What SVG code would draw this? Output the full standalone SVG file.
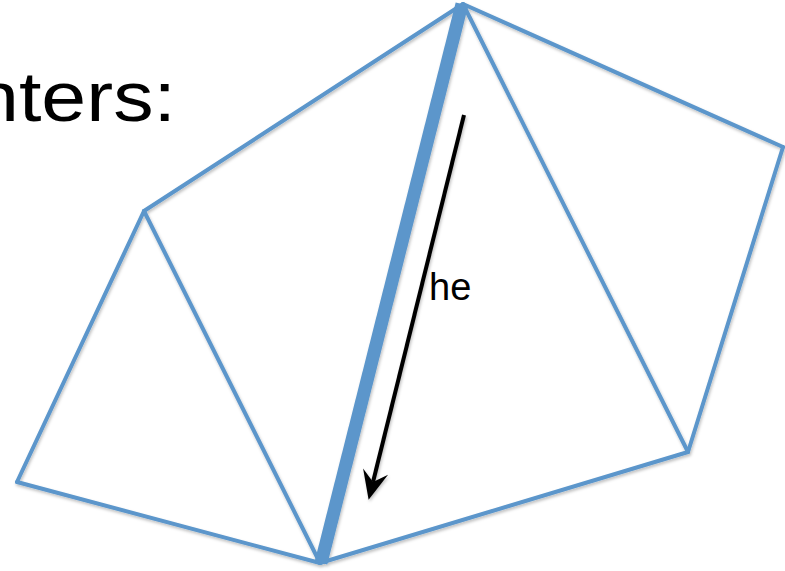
<svg xmlns="http://www.w3.org/2000/svg" width="785" height="571" viewBox="0 0 785 571">
<defs>
<style>
.edge{stroke:#5B96CB;stroke-width:4;fill:none;stroke-linecap:round;stroke-linejoin:round}
.thick{stroke:#5B96CB;stroke-width:13;fill:none;stroke-linecap:butt}
.lbl{font-family:"Liberation Sans",Arial,sans-serif;fill:#000}
</style>
<filter id="sh" x="-10%" y="-10%" width="120%" height="120%">
<feDropShadow dx="1" dy="2" stdDeviation="1.5" flood-color="#000" flood-opacity="0.25"/>
</filter>
<marker id="ah" markerUnits="userSpaceOnUse" markerWidth="40" markerHeight="30" viewBox="-12 -14 32 28" refX="0" refY="0" orient="auto">
<path d="M17,0 L-10,-12 L0,0 L-10,12 Z" fill="#000"/>
</marker>
</defs>
<rect width="785" height="571" fill="#fff"/>
<text class="lbl" x="-26" y="121" font-size="70" textLength="202" lengthAdjust="spacingAndGlyphs">nters:</text>
<g id="connectors" filter="url(#sh)">
<line class="edge" x1="144" y1="211" x2="463" y2="4"/>
<line class="edge" x1="463" y1="4" x2="783" y2="147"/>
<line class="edge" x1="783" y1="147" x2="688" y2="452"/>
<line class="edge" x1="688" y1="452" x2="320" y2="563"/>
<line class="edge" x1="320" y1="563" x2="17" y2="482"/>
<line class="edge" x1="17" y1="482" x2="144" y2="211"/>
<line class="edge" x1="144" y1="211" x2="320" y2="563"/>
<line class="edge" x1="463" y1="4" x2="688" y2="452"/>
<line class="thick" x1="462" y1="4" x2="321" y2="563"/>
<line x1="464" y1="115" x2="373" y2="482" stroke="#000" stroke-width="4" marker-end="url(#ah)"/>
</g>
<g id="label-he">
<text class="lbl" x="429" y="300" font-size="38">he</text>
</g>
</svg>
